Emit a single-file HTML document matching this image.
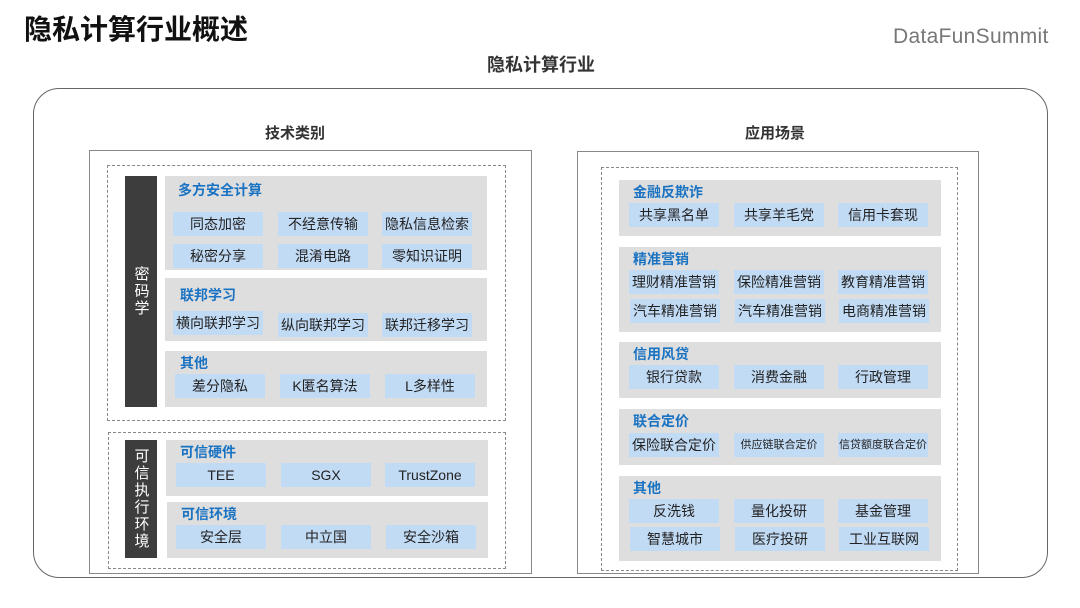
<!DOCTYPE html>
<html><head><meta charset="utf-8"><style>
*{margin:0;padding:0;box-sizing:border-box}
body{width:1080px;height:608px;background:#fff;position:relative;overflow:hidden;font-family:"Liberation Sans","Noto Sans CJK SC",sans-serif;color:#222}
div{position:absolute}
.g{background:#dedede}
.c{background:#c2dbf5;font-size:14px;text-align:center;line-height:24px;height:24px;width:90px;color:#222}
.t{color:#1a73c2;font-weight:bold;font-size:14px;line-height:16px}
.dk{background:#3d3d3d;color:#fff;font-size:15px;text-align:center;writing-mode:vertical-rl;text-orientation:upright;display:flex;align-items:center;justify-content:center;letter-spacing:2px}
.d{border:1.5px dashed #888}
.s{font-size:11px}
</style></head><body>
<div style="left:24px;top:12px;font-size:28px;font-weight:bold;color:#111;line-height:36px">隐私计算行业概述</div>
<div style="left:893px;top:24px;font-size:21px;color:#777;line-height:26px;letter-spacing:0.3px">DataFunSummit</div>
<div style="left:441px;top:53px;width:200px;text-align:center;font-size:18px;font-weight:bold;color:#333;line-height:24px">隐私计算行业</div>
<div style="left:33px;top:88px;width:1015px;height:490px;border:1.5px solid #666;border-radius:26px"></div>
<div style="left:210px;top:122px;width:170px;text-align:center;font-size:15px;font-weight:bold;color:#333">技术类别</div>
<div style="left:690px;top:122px;width:170px;text-align:center;font-size:15px;font-weight:bold;color:#333">应用场景</div>

<!-- left panel -->
<div style="left:89px;top:150px;width:443px;height:424px;border:1.5px solid #888"></div>
<div class="d" style="left:107px;top:165px;width:399px;height:256px"></div>
<div class="dk" style="left:125px;top:176px;width:32px;height:231px">密码学</div>
<div class="g" style="left:165px;top:176px;width:322px;height:94px"></div>
<div class="t" style="left:178px;top:182px">多方安全计算</div>
<div class="c" style="left:173px;top:212px">同态加密</div>
<div class="c" style="left:278px;top:212px">不经意传输</div>
<div class="c" style="left:382px;top:212px">隐私信息检索</div>
<div class="c" style="left:173px;top:244px">秘密分享</div>
<div class="c" style="left:278px;top:244px">混淆电路</div>
<div class="c" style="left:382px;top:244px">零知识证明</div>
<div class="g" style="left:165px;top:278px;width:322px;height:63px"></div>
<div class="t" style="left:180px;top:287px">联邦学习</div>
<div class="c" style="left:173px;top:311px">横向联邦学习</div>
<div class="c" style="left:278px;top:313px">纵向联邦学习</div>
<div class="c" style="left:382px;top:313px">联邦迁移学习</div>
<div class="g" style="left:165px;top:351px;width:322px;height:56px"></div>
<div class="t" style="left:180px;top:355px">其他</div>
<div class="c" style="left:175px;top:374px">差分隐私</div>
<div class="c" style="left:280px;top:374px">K匿名算法</div>
<div class="c" style="left:385px;top:374px">L多样性</div>

<div class="d" style="left:108px;top:432px;width:398px;height:137px"></div>
<div class="dk" style="left:125px;top:440px;width:32px;height:118px">可信执行环境</div>
<div class="g" style="left:166px;top:440px;width:322px;height:56px"></div>
<div class="t" style="left:180px;top:444px">可信硬件</div>
<div class="c" style="left:176px;top:463px">TEE</div>
<div class="c" style="left:281px;top:463px">SGX</div>
<div class="c" style="left:385px;top:463px">TrustZone</div>
<div class="g" style="left:167px;top:502px;width:321px;height:56px"></div>
<div class="t" style="left:181px;top:506px">可信环境</div>
<div class="c" style="left:176px;top:525px">安全层</div>
<div class="c" style="left:281px;top:525px">中立国</div>
<div class="c" style="left:386px;top:525px">安全沙箱</div>

<!-- right panel -->
<div style="left:577px;top:151px;width:402px;height:423px;border:1.5px solid #888"></div>
<div class="d" style="left:601px;top:167px;width:357px;height:404px"></div>
<div class="g" style="left:619px;top:180px;width:322px;height:56px"></div>
<div class="t" style="left:633px;top:184px">金融反欺诈</div>
<div class="c" style="left:629px;top:203px">共享黑名单</div>
<div class="c" style="left:734px;top:203px">共享羊毛党</div>
<div class="c" style="left:838px;top:203px">信用卡套现</div>
<div class="g" style="left:619px;top:247px;width:322px;height:85px"></div>
<div class="t" style="left:633px;top:251px">精准营销</div>
<div class="c" style="left:629px;top:270px">理财精准营销</div>
<div class="c" style="left:734px;top:270px">保险精准营销</div>
<div class="c" style="left:838px;top:270px">教育精准营销</div>
<div class="c" style="left:630px;top:299px">汽车精准营销</div>
<div class="c" style="left:735px;top:299px">汽车精准营销</div>
<div class="c" style="left:839px;top:299px">电商精准营销</div>
<div class="g" style="left:619px;top:342px;width:322px;height:56px"></div>
<div class="t" style="left:633px;top:346px">信用风贷</div>
<div class="c" style="left:629px;top:365px">银行贷款</div>
<div class="c" style="left:734px;top:365px">消费金融</div>
<div class="c" style="left:838px;top:365px">行政管理</div>
<div class="g" style="left:619px;top:409px;width:322px;height:56px"></div>
<div class="t" style="left:633px;top:413px">联合定价</div>
<div class="c" style="left:629px;top:433px">保险联合定价</div>
<div class="c s" style="left:734px;top:433px">供应链联合定价</div>
<div class="c s" style="left:838px;top:433px">信贷额度联合定价</div>
<div class="g" style="left:619px;top:476px;width:322px;height:85px"></div>
<div class="t" style="left:633px;top:480px">其他</div>
<div class="c" style="left:629px;top:499px">反洗钱</div>
<div class="c" style="left:734px;top:499px">量化投研</div>
<div class="c" style="left:838px;top:499px">基金管理</div>
<div class="c" style="left:630px;top:527px">智慧城市</div>
<div class="c" style="left:735px;top:527px">医疗投研</div>
<div class="c" style="left:839px;top:527px">工业互联网</div>
</body></html>
